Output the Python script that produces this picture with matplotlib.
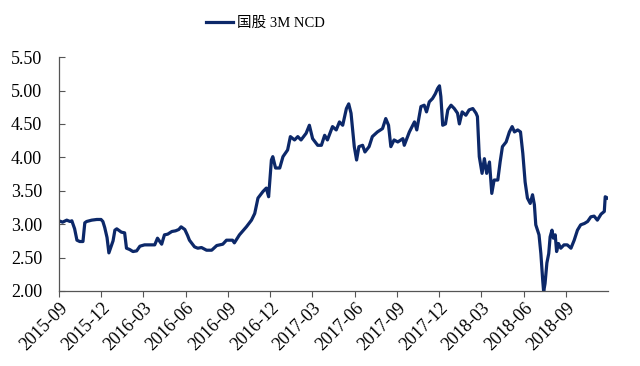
import matplotlib
matplotlib.use("Agg")
import matplotlib.pyplot as plt
import matplotlib.dates as mdates
import pandas as pd

# 国股 3M NCD rate
dates = [
    "2015-09-01", "2015-09-09", "2015-09-18", "2015-09-25", "2015-09-29",
    "2015-10-05", "2015-10-10", "2015-10-16", "2015-10-23", "2015-10-27",
    "2015-10-31", "2015-11-11", "2015-11-22", "2015-12-01", "2015-12-05",
    "2015-12-09", "2015-12-14", "2015-12-18", "2015-12-24", "2015-12-27",
    "2015-12-31", "2016-01-04", "2016-01-14", "2016-01-21", "2016-01-25",
    "2016-02-01", "2016-02-08", "2016-02-16", "2016-02-23", "2016-03-04",
    "2016-03-15", "2016-03-26", "2016-04-01", "2016-04-10", "2016-04-16",
    "2016-04-23", "2016-05-02", "2016-05-10", "2016-05-17", "2016-05-22",
    "2016-05-30", "2016-06-05", "2016-06-09", "2016-06-20", "2016-06-27",
    "2016-07-05", "2016-07-16", "2016-07-27", "2016-08-07", "2016-08-20",
    "2016-08-28", "2016-09-10", "2016-09-14", "2016-09-25", "2016-10-10",
    "2016-10-21", "2016-10-28", "2016-11-04", "2016-11-15", "2016-11-22",
    "2016-11-27", "2016-12-03", "2016-12-06", "2016-12-12", "2016-12-21",
    "2016-12-28", "2017-01-07", "2017-01-13", "2017-01-22", "2017-01-29",
    "2017-02-05", "2017-02-16", "2017-02-23", "2017-03-02", "2017-03-13",
    "2017-03-21", "2017-03-28", "2017-04-03", "2017-04-14", "2017-04-22",
    "2017-04-29", "2017-05-06", "2017-05-14", "2017-05-19", "2017-05-24",
    "2017-05-31", "2017-06-05", "2017-06-10", "2017-06-18", "2017-06-23",
    "2017-07-02", "2017-07-09", "2017-07-20", "2017-07-31", "2017-08-07",
    "2017-08-13", "2017-08-18", "2017-08-25", "2017-09-02", "2017-09-13",
    "2017-09-16", "2017-09-27", "2017-10-08", "2017-10-13", "2017-10-22",
    "2017-10-29", "2017-11-03", "2017-11-09", "2017-11-16", "2017-11-22",
    "2017-11-27", "2017-12-01", "2017-12-04", "2017-12-08", "2017-12-14",
    "2017-12-19", "2017-12-26", "2018-01-02", "2018-01-09", "2018-01-13",
    "2018-01-19", "2018-01-27", "2018-02-03", "2018-02-11", "2018-02-18",
    "2018-02-21", "2018-02-25", "2018-03-03", "2018-03-08", "2018-03-13",
    "2018-03-19", "2018-03-24", "2018-03-29", "2018-04-06", "2018-04-11",
    "2018-04-16", "2018-04-24", "2018-05-01", "2018-05-07", "2018-05-12",
    "2018-05-19", "2018-05-25", "2018-05-30", "2018-06-04", "2018-06-09",
    "2018-06-15", "2018-06-20", "2018-06-24", "2018-06-27", "2018-07-04",
    "2018-07-08", "2018-07-12", "2018-07-14", "2018-07-17", "2018-07-21",
    "2018-07-25", "2018-07-28", "2018-08-01", "2018-08-04", "2018-08-08",
    "2018-08-11", "2018-08-15", "2018-08-20", "2018-08-27", "2018-09-03",
    "2018-09-11", "2018-09-18", "2018-09-25", "2018-10-02", "2018-10-10",
    "2018-10-17", "2018-10-24", "2018-10-31", "2018-11-07", "2018-11-15",
    "2018-11-22", "2018-11-24", "2018-11-29",
]
rates = [
    3.05, 3.03, 3.06, 3.04, 3.05,
    2.93, 2.76, 2.74, 2.74, 3.02,
    3.04, 3.06, 3.07, 3.07, 3.04,
    2.95, 2.80, 2.57, 2.69, 2.75,
    2.91, 2.93, 2.88, 2.87, 2.64,
    2.62, 2.59, 2.60, 2.67, 2.69,
    2.69, 2.69, 2.79, 2.70, 2.84,
    2.85, 2.89, 2.90, 2.92, 2.96,
    2.92, 2.83, 2.76, 2.66, 2.64,
    2.65, 2.61, 2.61, 2.68, 2.70,
    2.76, 2.76, 2.72, 2.84, 2.96,
    3.06, 3.16, 3.39, 3.49, 3.54,
    3.41, 3.96, 4.01, 3.84, 3.84,
    4.01, 4.11, 4.31, 4.26, 4.31,
    4.26, 4.36, 4.48, 4.28, 4.18,
    4.18, 4.33, 4.26, 4.46, 4.41,
    4.53, 4.48, 4.73, 4.80, 4.66,
    4.16, 3.96, 4.16, 4.18, 4.08,
    4.16, 4.31, 4.38, 4.43, 4.58,
    4.48, 4.16, 4.26, 4.23, 4.28,
    4.18, 4.38, 4.53, 4.41, 4.76,
    4.78, 4.68, 4.83, 4.88, 4.95,
    5.03, 5.07, 4.91, 4.48, 4.50,
    4.71, 4.78, 4.73, 4.66, 4.50,
    4.68, 4.63, 4.71, 4.73, 4.66,
    4.61, 4.01, 3.76, 3.98, 3.76,
    3.93, 3.46, 3.66, 3.66, 3.93,
    4.16, 4.23, 4.38, 4.46, 4.38,
    4.41, 4.38, 4.06, 3.63, 3.39,
    3.31, 3.44, 3.29, 2.99, 2.84,
    2.56, 2.16, 1.99, 2.11, 2.42,
    2.56, 2.81, 2.91, 2.79, 2.84,
    2.59, 2.71, 2.64, 2.69, 2.69,
    2.64, 2.76, 2.91, 2.99, 3.01,
    3.04, 3.11, 3.12, 3.06, 3.15,
    3.19, 3.41, 3.39,
]
series_name = "国股 3M NCD"
y_ticks = [2.0, 2.5, 3.0, 3.5, 4.0, 4.5, 5.0, 5.5]

x = pd.to_datetime(dates)

plt.rcParams["font.family"] = ["Liberation Serif", "Noto Sans CJK SC"]
fig = plt.figure(figsize=(6.4, 3.66), dpi=100)
ax = fig.add_axes([0.092, 0.205, 0.858, 0.639])

ax.plot(x, rates, color="#0c2869", lw=2.3, label=series_name)

ax.set_ylim(2.0, 5.5)
ax.set_yticks(y_ticks)
ax.set_yticklabels([f"{v:.2f}" for v in y_ticks])
ax.set_xlim(pd.Timestamp("2015-09-01"), pd.Timestamp("2018-11-30"))
ax.xaxis.set_major_locator(mdates.MonthLocator(bymonth=[3, 6, 9, 12]))
ax.xaxis.set_major_formatter(mdates.DateFormatter("%Y-%m"))

for s in ["top", "right"]:
    ax.spines[s].set_visible(False)
for s in ["left", "bottom"]:
    ax.spines[s].set_color("#555555")
    ax.spines[s].set_linewidth(0.9)

ax.tick_params(axis="y", direction="in", length=4, color="#555555",
               labelsize=13, pad=12)
ax.tick_params(axis="x", direction="out", length=4, color="#555555",
               labelsize=13, pad=2)
for lab in ax.get_xticklabels():
    lab.set_rotation(45)
    lab.set_ha("right")
    lab.set_rotation_mode("anchor")

fig.legend(loc="center", bbox_to_anchor=(0.415, 0.937), frameon=False,
           fontsize=10.5, handlelength=1.8, handletextpad=0.3)

fig.savefig("out.png", dpi=100)
